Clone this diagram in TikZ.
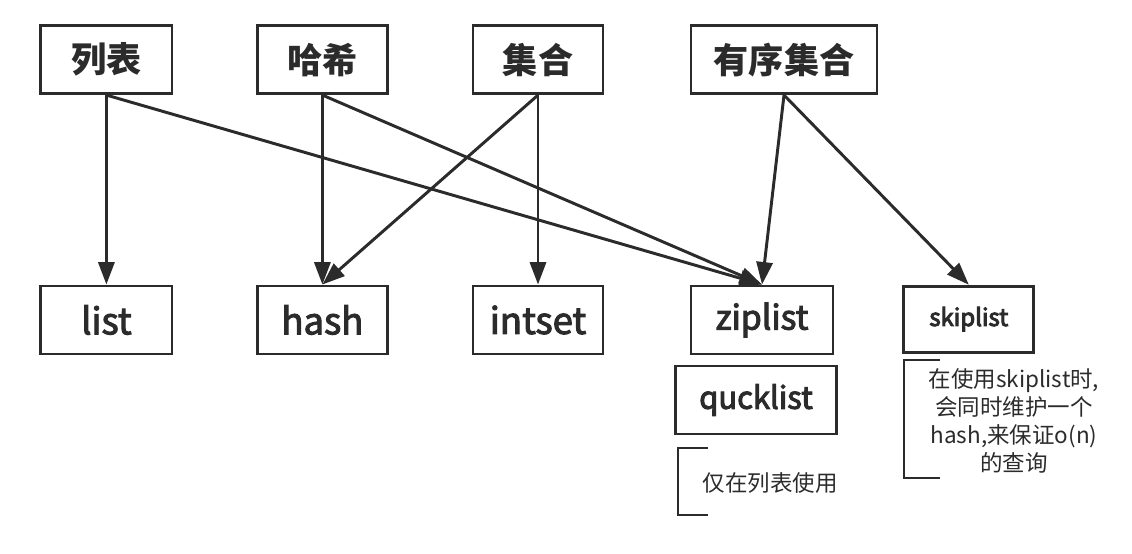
\documentclass[tikz,border=0pt]{standalone}
\usepackage{fontspec}
\setmainfont{Noto Sans CJK SC}
\usetikzlibrary{arrows.meta}
\definecolor{inkgray}{HTML}{2B2B2B}
\tikzset{
	box/.style={draw=inkgray, line width=2.1pt, text=inkgray, inner sep=0pt,
		minimum height=1.7cm, font=\fontsize{25}{30}\selectfont\bfseries},
	code/.style={font=\fontsize{#1}{30}\selectfont,
		execute at begin node={\special{pdf:literal 2 Tr 0.7 w}},
		execute at end node={\special{pdf:literal 0 Tr}}},
	code/.default=26,
	link/.style={draw=inkgray, line width=2.1pt, -{Triangle[length=16pt,width=11.5pt]}},
	note/.style={text=inkgray, align=center, font=\fontsize{16}{20}\selectfont},
	bracket/.style={draw=inkgray, line width=2.1pt},
}

\begin{document}
\begin{tikzpicture}
	\useasboundingbox (0,0) rectangle (28.3,-13.825);
	% data types (top row)
	\node[box, minimum width=3.28cm] (lb) at (2.66,-1.49) {列表};
	\node[box, minimum width=3.25cm] (hx) at (8.06,-1.49) {哈希};
	\node[box, minimum width=3.25cm] (jh) at (13.45,-1.49) {集合};
	\node[box, minimum width=4.65cm] (yx) at (19.6,-1.49) {有序集合};
	% encodings (bottom row)
	\node[box, code, minimum width=3.28cm] (list) at (2.66,-8.0) {list};
	\node[box, code, minimum width=3.25cm] (hash) at (8.06,-8.0) {hash};
	\node[box, code, minimum width=3.25cm] (intset) at (13.45,-8.0) {intset};
	\node[box, code=24, minimum width=3.55cm] (ziplist) at (19.05,-8.0) {ziplist};
	\node[box, code=17, minimum width=3.25cm, minimum height=1.65cm] (skiplist) at (24.22,-7.98) {skiplist};
	\node[box, code=22, minimum width=4.03cm] (qucklist) at (18.9,-10.0) {qucklist};
	% arrows
	\draw[link] (lb.south) -- (list.north);
	\draw[link] (lb.south) -- (ziplist.north);
	\draw[link] (hx.south) -- (hash.north);
	\draw[link] (hx.south) -- (ziplist.north);
	\draw[link] (jh.south) -- (hash.north);
	\draw[link] (jh.south) -- (intset.north);
	\draw[link] (yx.south) -- (ziplist.north);
	\draw[link] (yx.south) -- (skiplist.north);
	% notes with brackets
	\draw[bracket] (17.7,-11.2) -- (16.95,-11.2) -- (16.95,-12.875) -- (17.7,-12.875);
	\node[note] (qnote) at (19.25,-12.075) {仅在列表使用};
	\draw[bracket] (23.5,-9.0) -- (22.6,-9.0) -- (22.6,-11.95) -- (23.5,-11.95);
	\node[note] (snote) at (25.35,-10.53) {在使用skiplist时,\\会同时维护一个\\hash,来保证o(n)\\的查询};
\end{tikzpicture}
\end{document}
